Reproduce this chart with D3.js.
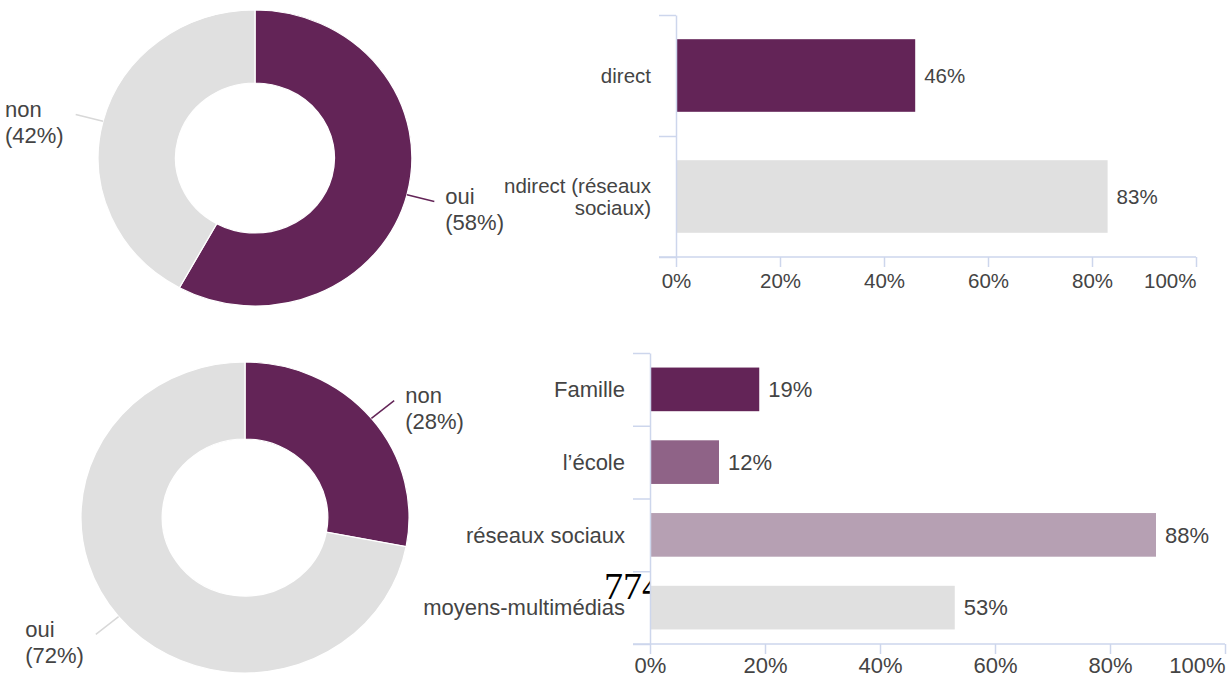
<!DOCTYPE html>
<html>
<head>
<meta charset="utf-8">
<script src="https://cdn.jsdelivr.net/npm/d3@7"></script>
<style>
  body { margin: 0; background: #fff; }
  svg { display: block; }
  text { font-family: "Liberation Sans", Arial, sans-serif; fill: #444; }
</style>
</head>
<body>
<svg width="1231" height="679"></svg>
<script>
// donut 1
var donut1Labels = ["oui", "non"];
var donut1Values = [58, 42];
// bars 1
var bar1Cats = ["direct", "ndirect (réseaux sociaux)"];
var bar1Values = [46, 83];
// donut 2
var donut2Labels = ["non", "oui"];
var donut2Values = [28, 72];
// bars 2
var bar2Cats = ["Famille", "l’école", "réseaux sociaux", "moyens-multimédias"];
var bar2Values = [19, 12, 88, 53];
var xTicks = [0, 20, 40, 60, 80, 100];

var purple = "#632457", grey = "#e0e0e0", axisColor = "#cdd6ec";

var svg = d3.select("svg");

function donut(cx, cy, ro, ri, sx, labels, values, colors) {
    var data = labels.map(function (l, i) { return {label: l, v: values[i], color: colors[i]}; });
    var pie = d3.pie().sort(null).value(function (d) { return d.v; });
    var arc = d3.arc().innerRadius(ri).outerRadius(ro);
    var arcs = pie(data);

    var g = svg.append("g").attr("transform", "translate(" + cx + "," + cy + ")");
    g.append("g").attr("transform", "scale(" + sx + ",1)")
        .selectAll("path")
        .data(arcs)
        .enter().append("path")
        .attr("d", arc)
        .attr("fill", function (d) { return d.data.color; })
        .attr("stroke", "#fff")
        .attr("stroke-width", 1.2);

    arcs.forEach(function (d) {
        var a = (d.startAngle + d.endAngle) / 2;
        var x0 = Math.sin(a) * ro * sx, y0 = -Math.cos(a) * ro;
        var x1 = Math.sin(a) * ro * 1.18 * sx, y1 = -Math.cos(a) * ro * 1.18;
        g.append("line")
            .attr("x1", x0).attr("y1", y0)
            .attr("x2", x1).attr("y2", y1)
            .attr("stroke", d.data.color === grey ? "#d8d8d8" : d.data.color)
            .attr("stroke-width", 1.5);

        var t = g.append("text")
            .style("font-size", "22px");
        t.append("tspan").attr("x", 0).attr("y", y1 - 5).attr("dy", "0.35em").text(d.data.label);
        t.append("tspan").attr("x", 0).attr("y", y1 + 21).attr("dy", "0.35em").text("(" + d.data.v + "%)");
        var w = t.node().getBBox().width;
        var tx = x1 > 0 ? x1 + 11 : x1 - 12 - w;
        t.selectAll("tspan").attr("x", tx);
    });
}

function wrap(str, maxW, size) {
    if (!maxW) return [str];
    var probe = svg.append("text").style("font-size", size + "px");
    var words = str.split(" "), lines = [], cur = "";
    words.forEach(function (w) {
        var test = cur ? cur + " " + w : w;
        probe.text(test);
        if (probe.node().getComputedTextLength() > maxW && cur) {
            lines.push(cur);
            cur = w;
        } else {
            cur = test;
        }
    });
    lines.push(cur);
    probe.remove();
    return lines;
}

function barChart(x0, x100, yTop, yBot, cats, values, colors, wrapW, fs, pad) {
    var x = d3.scaleLinear().domain([0, 100]).range([x0, x100]);
    var y = d3.scaleBand().domain(cats).range([yTop, yBot]).paddingInner(0.4).paddingOuter(0.2);
    var yEdge = d3.scaleLinear().domain([0, cats.length]).range([yTop, yBot]);

    // plot background
    svg.append("rect")
        .attr("x", x0).attr("y", yTop)
        .attr("width", x100 - x0).attr("height", yBot - yTop)
        .attr("fill", "#fff");

    svg.append("g")
        .selectAll("rect")
        .data(cats)
        .enter().append("rect")
        .attr("x", x(0))
        .attr("y", function (d) { return y(d); })
        .attr("width", function (d, i) { return x(values[i]) - x(0); })
        .attr("height", y.bandwidth())
        .attr("fill", function (d, i) { return colors[i]; });

    // value labels
    svg.append("g")
        .selectAll("text")
        .data(cats)
        .enter().append("text")
        .attr("x", function (d, i) { return x(values[i]) + 9; })
        .attr("y", function (d) { return y(d) + y.bandwidth() / 2; })
        .attr("dy", "0.35em")
        .style("font-size", fs + "px")
        .text(function (d, i) { return values[i] + "%"; });

    // category labels
    cats.forEach(function (c) {
        var lines = wrap(c, wrapW, fs);
        var cy = y(c) + y.bandwidth() / 2;
        var t = svg.append("text")
            .attr("text-anchor", "end")
            .style("font-size", fs + "px");
        lines.forEach(function (l, i) {
            t.append("tspan")
                .attr("x", x0 - 25)
                .attr("y", cy + (i - (lines.length - 1) / 2) * 22)
                .attr("dy", "0.35em")
                .text(l);
        });
    });

    // y axis with band edges
    var ya = svg.append("g")
        .attr("transform", "translate(" + x0 + ",0)")
        .call(d3.axisLeft(yEdge).tickValues(d3.range(cats.length + 1)).tickSize(17).tickSizeOuter(0).tickFormat(""));
    ya.select(".domain").attr("stroke", axisColor).attr("stroke-width", 1.5);
    ya.selectAll(".tick line").attr("stroke", axisColor).attr("stroke-width", 1.5);

    // x axis
    var xa = svg.append("g")
        .attr("transform", "translate(0," + yBot + ")")
        .call(d3.axisBottom(x).tickValues(xTicks).tickSize(10).tickPadding(pad)
            .tickFormat(function (d) { return d + "%"; }));
    xa.select(".domain").remove();
    xa.append("line")
        .attr("x1", x0 - 17).attr("x2", x100)
        .attr("stroke", axisColor).attr("stroke-width", 1.5);
    xa.selectAll(".tick line").attr("stroke", axisColor).attr("stroke-width", 1.5);
    xa.selectAll(".tick text")
        .attr("fill", "#444")
        .attr("text-anchor", function (d) { return d === 100 ? "end" : "middle"; })
        .style("font-family", "Liberation Sans, Arial, sans-serif")
        .style("font-size", fs + "px");
}

donut(255, 158, 148, 75, 1.06, donut1Labels, donut1Values, [purple, grey]);
barChart(676, 1196, 15, 257, bar1Cats, bar1Values, [purple, grey], 160, 20.5, 6);

donut(245, 517.5, 155.5, 78.5, 1.055, donut2Labels, donut2Values, [purple, grey]);

// stray number sitting behind the second bar chart
svg.append("text")
    .attr("x", 604)
    .attr("y", 599)
    .style("font-family", "Liberation Serif, Times New Roman, serif")
    .style("font-size", "38px")
    .style("fill", "#000")
    .text("774");

barChart(650, 1225, 353, 644, bar2Cats, bar2Values, [purple, "#8f6387", "#b6a0b3", grey], 0, 22, 3);
</script>
</body>
</html>
